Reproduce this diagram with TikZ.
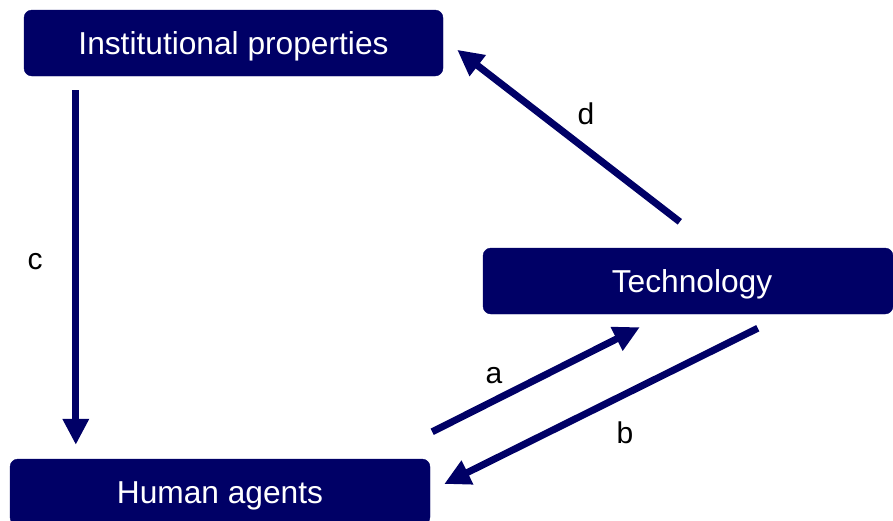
\documentclass[tikz,border=0pt]{standalone}
\usepackage{fontspec}
\setmainfont{Liberation Sans}
\usetikzlibrary{arrows.meta}
\definecolor{navy}{RGB}{0,0,102}

\begin{document}
\begin{tikzpicture}[x=1pt,y=-1pt,
    box/.style={fill=navy, draw=navy, rounded corners=8pt, text=white,
      minimum height=66pt, inner sep=0pt, text height=29.5pt, text depth=7pt,
      font=\fontsize{31.7}{36}\selectfont},
    link/.style={draw=navy, line width=7pt, -{Triangle[length=26pt,width=25pt]}},
    lbl/.style={font=\fontsize{30}{34}\selectfont}]
    \useasboundingbox (0,0) rectangle (893,520);

    % draw boxes
    \node[box, minimum width=419pt] (inst) at (233.5,43) {Institutional properties};
    \node[box, minimum width=410pt] (tech) at (688,281) {\hspace*{8pt}Technology};
    \node[box, minimum width=420pt] (human) at (220,492) {Human agents};

    % draw arrows
    \draw[link] ([shift={(52,14)}]inst.south west) -- ([shift={(66,-14)}]human.north west);
    \draw[link] ([shift={(197,-26)}]tech.north west) -- ([shift={(14,40)}]inst.north east);
    \draw[link] ([shift={(2,-27)}]human.north east) -- ([shift={(157,13)}]tech.south west);
    \draw[link] ([shift={(275,14)}]tech.south west) -- ([shift={(14,-8)}]human.east);

    % draw labels
    \node[lbl] (lc) at (35,262) {c};
    \node[lbl] (ld) at (586,114) {d};
    \node[lbl] (la) at (494,376) {a};
    \node[lbl] (lb) at (625,433) {b};
\end{tikzpicture}
\end{document}
